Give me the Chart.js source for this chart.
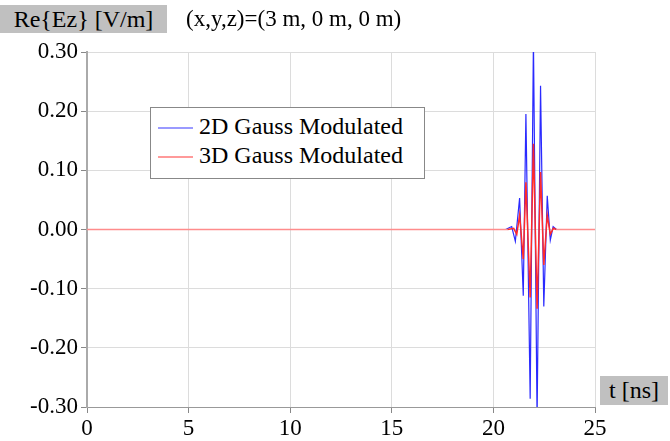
<!DOCTYPE html>
<html lang="en">
<head>
    <meta charset="UTF-8">
    <title>Re{Ez} vs t</title>
    <style>
        body { margin: 0; padding: 0; background: #fff; font-family: "Liberation Serif", "DejaVu Serif", serif; }
        #wrap { position: relative; width: 670px; height: 441px; }
        .tag { position: absolute; background: #c0c0c0; color: #000; font-size: 24px; line-height: 28px; }
        #ylab { left: 0; top: 5px; width: 167px; height: 28px; text-align: center; }
        #pos { position: absolute; left: 186px; top: 5px; font-size: 23px; line-height: 28px; }
        #xlab { left: 600px; top: 376px; width: 68px; height: 29px; text-align: center; }
        #legend { position: absolute; left: 150px; top: 107px; width: 273px; height: 70px; border: 1px solid #888; background: #fff; }
        .row { position: absolute; left: 7px; font-size: 24px; line-height: 28px; white-space: nowrap; }
        .row span { display: inline-block; width: 35px; height: 2px; vertical-align: middle; margin-right: 6px; }
    </style>
</head>
<body>
<div id="wrap">
    <canvas id="chart"></canvas>
    <div class="tag" id="ylab">Re{Ez} [V/m]</div>
    <div id="pos">(x,y,z)=(3 m, 0 m, 0 m)</div>
    <div class="tag" id="xlab">t [ns]</div>
    <div id="legend">
        <div class="row" style="top:4px"><span style="background:#9a9aff"></span>2D Gauss Modulated</div>
        <div class="row" style="top:33px"><span style="background:#ff9a9a"></span>3D Gauss Modulated</div>
    </div>
</div>
<script src="https://cdn.jsdelivr.net/npm/chart.js"></script>
<script>
// tempos (ns) e valores
const t2d = [0, 20.6, 20.9, 21.08, 21.29, 21.47, 21.60, 21.81, 21.97, 22.15, 22.32, 22.48, 22.65, 22.80, 22.94, 23.1, 25];
const ez2d = [0, 0, 0.005, -0.02, 0.053, -0.112, 0.195, -0.286, 0.32, -0.32, 0.243, -0.13, 0.057, -0.018, 0.005, 0, 0];
const t3d = [0, 20.7, 21.0, 21.15, 21.29, 21.47, 21.60, 21.81, 21.97, 22.15, 22.32, 22.48, 22.65, 22.80, 22.95, 23.1, 25];
const ez3d = [0, 0, 0.002, -0.008, 0.024, -0.05, 0.08, -0.115, 0.145, -0.134, 0.097, -0.06, 0.024, -0.008, 0.002, 0, 0];
const xTicks = [0, 5, 10, 15, 20, 25];
const yTicks = [-0.3, -0.2, -0.1, 0, 0.1, 0.2, 0.3];

const pts = (ts, vs) => ts.map((t, i) => ({ x: t, y: vs[i] }));
const fonte = { family: 'Liberation Serif', size: 23 };
// a linha azul fica escondida sob a vermelha quando as duas estão em zero
const azulPlano = ctx => (ctx.p0.parsed.y === 0 && ctx.p1.parsed.y === 0) ? 'rgba(0,0,0,0)' : undefined;
// trecho plano vermelho aparece rosado no original
const vermPlano = ctx => (ctx.p0.parsed.y === 0 && ctx.p1.parsed.y === 0) ? '#ff8c8c' : undefined;

new Chart(document.getElementById('chart'), {
    type: 'line',
    data: {
        datasets: [
            { label: '2D Gauss Modulated', data: pts(t2d, ez2d), borderColor: '#2a2aff', borderWidth: 1.2, pointRadius: 0, tension: 0, order: 2,
              segment: { borderColor: azulPlano } },
            { label: '3D Gauss Modulated', data: pts(t3d, ez3d), borderColor: '#ff2a2a', borderWidth: 1.5, pointRadius: 0, tension: 0, order: 1,
              segment: { borderColor: vermPlano } }
        ]
    },
    options: {
        responsive: true,
        maintainAspectRatio: false,
        animation: false,
        layout: { padding: { top: 52, right: 75, left: 0, bottom: 0 } },
        plugins: { legend: { display: false }, tooltip: { enabled: false } },
        scales: {
            x: {
                type: 'linear', min: 0, max: 25,
                afterBuildTicks: s => { s.ticks = xTicks.map(v => ({ value: v })); },
                afterFit: s => { s.height = 34; },
                grid: { color: '#dcdcdc', tickColor: '#888', tickLength: 6 },
                border: { color: '#999', width: 1 },
                ticks: { color: '#000', font: fonte, padding: 2, maxRotation: 0 }
            },
            y: {
                min: -0.3, max: 0.3,
                afterBuildTicks: s => { s.ticks = yTicks.map(v => ({ value: v })); },
                afterFit: s => { s.width = 87; },
                grid: { color: '#dcdcdc', tickColor: '#888', tickLength: 6 },
                border: { color: '#aaa', width: 2 },
                ticks: { color: '#000', font: fonte, padding: 3, callback: v => v.toFixed(2) }
            }
        }
    }
});
</script>
</body>
</html>
